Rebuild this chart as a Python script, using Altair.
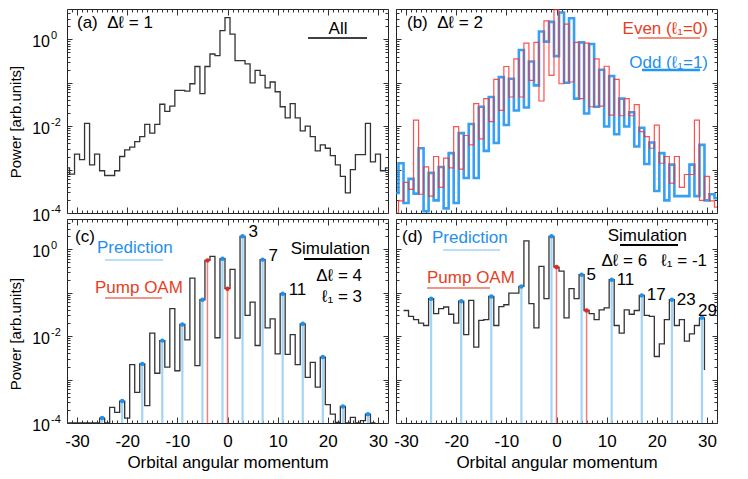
import altair as alt
import pandas as pd

FONT = "Liberation Sans"
TICK = "#333333"

# ---------------- data ----------------
L_ALL = list(range(-32, 33))          # bin centres for (a) and (b)

power_a = [1.09e-3, 7.9e-4, 2.27e-3, 1.69e-3, 1.16e-2, 1.29e-3, 2.27e-3, 9.4e-4, 7.3e-4, 7.3e-4,
           9.4e-4, 2.0e-3, 2.85e-3, 3.3e-3, 4.4e-3, 5.75e-3, 1.1e-2, 6.9e-3, 1.1e-2, 3.2e-2,
           2.2e-2, 2.9e-2, 6.7e-2, 6.7e-2, 6.4e-2, 9.5e-2, 0.237, 5.6e-2, 0.237, 0.46,
           0.42, 1.58, 3.18, 1.32, 0.325, 0.325, 0.273, 9.9e-2, 0.192, 0.148,
           7.6e-2, 0.104, 6.2e-2, 2.8e-2, 1.56e-2, 3.3e-2, 1.56e-2, 7.8e-3, 1.0e-2, 5.75e-3,
           2.7e-3, 3.7e-3, 3.1e-3, 2.1e-3, 1.29e-3, 7.0e-4, 2.9e-4, 1.0e-3, 2.2e-3, 2.2e-3,
           1.16e-2, 1.5e-3, 2.27e-3, 9.4e-4, 1.09e-3]

power_even = [8e-5, 1.9e-4, 5.1e-4, 3.5e-4, 1.38e-2, 2.7e-4, 1.15e-3, 2.45e-4, 2.0e-3, 3.9e-4,
              1.84e-3, 1.09e-3, 9.8e-3, 1.03e-3, 6.1e-3, 3.7e-3, 3.3e-2, 5.1e-3, 4.3e-2, 1.27e-2,
              0.12, 2.3e-2, 0.237, 4.7e-2, 0.355, 4.7e-2, 0.82, 0.113, 0.85, 3.8e-2,
              2.67, 0.148, 4.8, 9.5e-2, 2.24, 0.104, 0.85, 4.3e-2, 0.82, 2.8e-2,
              0.355, 2.9e-2, 0.24, 1.8e-2, 0.12, 1.74e-2, 4.3e-2, 1.74e-2, 3.15e-2, 7.5e-3,
              5.75e-3, 3.1e-3, 1.06e-2, 1.4e-3, 2.0e-3, 4.9e-4, 2.0e-3, 3.9e-4, 7.7e-4, 7.7e-4,
              1.38e-2, 1.95e-4, 7.0e-4, 1.9e-4, 1.37e-4]

power_odd = [2.9e-4, 1.4e-3, 1.7e-4, 6.1e-4, 2.8e-4, 3.1e-3, 1.1e-4, 8.4e-4, 1.95e-4, 1.15e-3,
             1.28e-4, 2.4e-3, 1.7e-4, 6.9e-3, 6.4e-4, 1.12e-2, 6.4e-4, 2.8e-2, 2.7e-3, 4.7e-2,
             4.1e-3, 0.135, 1.06e-2, 0.124, 2.3e-2, 0.57, 2.7e-2, 0.31, 8.7e-2, 1.52,
             0.885, 2.53, 0.41, 4.14, 0.1, 3.07, 4.3e-2, 0.85, 1.96e-2, 0.78,
             2.8e-2, 0.2, 9.8e-3, 0.143, 6.5e-3, 4.3e-2, 9.8e-3, 2.1e-2, 3.4e-3, 9.2e-3,
             1.34e-3, 4.2e-3, 3.2e-4, 2.4e-3, 1.95e-4, 1.3e-3, 2.45e-4, 2.45e-4, 2.45e-4, 1.3e-3,
             2.45e-4, 3.7e-3, 1.95e-4, 2.7e-4, 2.2e-4]

L_C = list(range(-32, 30))
power_c = [5e-5, 5e-5, 5e-5, 5e-5, 1.0e-4, 1.0e-4, 5e-5, 1.3e-4, 8e-5, 2.3e-4,
           1.76e-4, 3.2e-4, 1.3e-4, 2.2e-3, 5.1e-4, 2.3e-3, 2.5e-4, 1.17e-2, 1.4e-3, 7.9e-3,
           1.93e-3, 4.3e-2, 1.6e-3, 1.86e-2, 8.2e-3, 0.218, 2.1e-3, 6.9e-2, 0.557, 0.69,
           9.2e-3, 0.61, 0.124, 0.345, 9.0e-3, 2.0, 3.0e-2, 6.1e-2, 6.1e-3, 0.58,
           1.56e-2, 2.5e-2, 3.9e-3, 9.5e-2, 3.8e-3, 1.09e-2, 2.2e-3, 1.93e-2, 1.13e-3, 2.5e-3,
           6.7e-4, 3.3e-3, 2.65e-4, 1.6e-4, 1.03e-4, 2.4e-4, 8e-5, 1.35e-4, 1.0e-4, 1.13e-4,
           1.6e-4, 8e-5]
pred_c = [-25, -21, -17, -13, -9, -5, -1, 3, 7, 11, 15, 19, 23, 28]
pump_c = [-4, 0]
num_c = [3, 7, 11]

L_D = list(range(-30, 31))
power_d = [3.9e-2, 2.85e-2, 2.4e-2, 2.0e-2, 1.76e-2, 7.3e-2, 3.3e-2, 4.3e-2, 4.7e-2, 3.2e-2,
           2.0e-2, 6.4e-2, 1.09e-2, 6.65e-2, 5.6e-3, 2.3e-2, 2.4e-2, 8.2e-2, 1.76e-2, 4.8e-2,
           5.3e-2, 9.8e-2, 9.8e-2, 0.14, 1.56, 5.6e-2, 1.56e-2, 0.405, 7.3e-2, 2.0,
           0.39, 0.316, 2.65e-2, 0.124, 7.3e-2, 0.26, 3.9e-2, 3.3e-2, 2.4e-2, 4.05e-2,
           4.5e-2, 0.2, 1.76e-2, 1.17e-2, 4.05e-2, 3.2e-2, 3.9e-2, 8.7e-2, 3.0e-2, 2.85e-2,
           3.4e-3, 6.65e-3, 2.4e-2, 6.9e-2, 1.76e-2, 2.4e-2, 7.7e-3, 1.13e-2, 1.76e-2, 2.65e-2,
           1.67e-3]
pred_d = [-25, -19, -13, -7, -1, 5, 11, 17, 23, 29]
pump_d = [0, 6]
num_d = [5, 11, 17, 23, 29]

# y tick labels: decade and exponent text
ylab_values = [1.0, 0.01, 0.0001]
ylab_exp = ["0", "-2", "-4"]

# ---------------- scales / axes ----------------
W, H = 321, 204
XS = alt.Scale(domain=[-32, 32], nice=False, zero=False, clamp=True)
YS = alt.Scale(type="log", domain=[1e-4, 5.0], nice=False, clamp=True)
X_MAJOR = [-30, -20, -10, 0, 10, 20, 30]
X_MINOR = list(range(-32, 33))
Y_MAJOR = [1e-4, 1e-3, 1e-2, 1e-1, 1.0]
Y_MINOR = [m * 10.0 ** e for e in range(-4, 1) for m in range(2, 10) if m * 10.0 ** e <= 5.0]
XLAB = "datum.value < 0 ? '-' + abs(datum.value) : '' + datum.value"


def axis_layers(bottom_labels):
    dummy = pd.DataFrame({"x": [0.0], "p": [1.0]})
    out = []
    for xo, yo in (("bottom", "left"), ("top", "right")):
        for major in (True, False):
            xlab = major and xo == "bottom" and bottom_labels
            xk = dict(orient=xo, values=X_MAJOR if major else X_MINOR,
                      tickSize=6 if major else 3, offset=-6 if major else -3,
                      domain=False, grid=False, tickColor=TICK, tickWidth=1,
                      labels=xlab, labelFlush=False, minExtent=0)
            if xlab:
                xk.update(labelExpr=XLAB, labelFont=FONT, labelFontSize=17, labelColor="black",
                          labelPadding=10, title="Orbital angular momentum", titleFont=FONT,
                          titleFontSize=17, titleFontWeight="normal", titleColor="black",
                          titlePadding=5)
            else:
                xk["title"] = None
            yk = dict(orient=yo, values=Y_MAJOR if major else Y_MINOR,
                      tickSize=5 if major else 3, offset=-5 if major else -3,
                      domain=False, grid=False, tickColor=TICK, tickWidth=1,
                      labels=False, minExtent=0, title=None)
            out.append(alt.Chart(dummy).mark_point(opacity=0).encode(
                x=alt.X("x:Q", scale=XS, axis=alt.Axis(**xk)),
                y=alt.Y("p:Q", scale=YS, axis=alt.Axis(**yk))))
    return out


def y_labels(title_y):
    df = pd.DataFrame({"p": ylab_values, "e": ylab_exp})
    base = alt.Chart(df).mark_text(text="10", font=FONT, fontSize=16, color="black",
                                   align="right", baseline="middle", dy=3).encode(
        x=alt.value(-17), y=alt.Y("p:Q", scale=YS, axis=None))
    exp = alt.Chart(df).mark_text(font=FONT, fontSize=11, color="black",
                                  align="left", baseline="middle", dy=-3).encode(
        x=alt.value(-16), y=alt.Y("p:Q", scale=YS, axis=None), text="e:N")
    title = alt.Chart(pd.DataFrame({"k": [0]})).mark_text(
        text="Power [arb.units]", font=FONT, fontSize=15, color="black", angle=270,
        align="center", baseline="middle").encode(x=alt.value(-51), y=alt.value(title_y))
    return [base, exp, title]


def step_line(ls, vals, color, width, close=True, opacity=1.0):
    xs = [l - 0.5 for l in ls]
    ys = list(vals)
    if close:
        xs.append(ls[-1] + 0.5)
        ys.append(vals[-1])
    df = pd.DataFrame({"x": xs, "p": ys, "o": list(range(len(xs)))})
    return alt.Chart(df).mark_line(interpolate="step-after", clip=True, color=color,
                                   strokeWidth=width, opacity=opacity).encode(
        x=alt.X("x:Q", scale=XS, axis=None),
        y=alt.Y("p:Q", scale=YS, axis=None),
        order="o:Q")


def stems(ls, vals, where, line_color, line_w, dot_color):
    lookup = dict(zip(ls, vals))
    df = pd.DataFrame({"x": where, "p": [lookup[w] for w in where]})
    rule = alt.Chart(df).mark_rule(color=line_color, strokeWidth=line_w, clip=True).encode(
        x=alt.X("x:Q", scale=XS, axis=None),
        y=alt.Y("p:Q", scale=YS, axis=None),
        y2=alt.datum(1e-4))
    dots = alt.Chart(df).mark_circle(color=dot_color, size=20, opacity=1).encode(
        x=alt.X("x:Q", scale=XS, axis=None),
        y=alt.Y("p:Q", scale=YS, axis=None))
    return rule, dots


def numbers(ls, vals, where, dx, dy):
    lookup = dict(zip(ls, vals))
    df = pd.DataFrame({"x": where, "p": [lookup[w] for w in where], "t": [str(w) for w in where]})
    return alt.Chart(df).mark_text(font=FONT, fontSize=17, color="black", align="left",
                                   baseline="middle", dx=dx, dy=dy).encode(
        x=alt.X("x:Q", scale=XS, axis=None),
        y=alt.Y("p:Q", scale=YS, axis=None),
        text="t:N")


DUMMY = pd.DataFrame({"k": [0]})
NB = "\u00a0"


def label(text, x, y, color="black", size=17, align="left"):
    return alt.Chart(DUMMY).mark_text(text=text, font=FONT, fontSize=size, color=color,
                                      align=align, baseline="middle").encode(
        x=alt.value(x), y=alt.value(y))


def uline(x1, x2, y, color, width):
    return alt.Chart(DUMMY).mark_rule(color=color, strokeWidth=width).encode(
        x=alt.value(x1), x2=alt.value(x2), y=alt.value(y))


def panel(layers, bottom_labels, left_labels, title_y=0):
    extra = y_labels(title_y) if left_labels else []
    return alt.layer(*axis_layers(bottom_labels), *layers, *extra).resolve_axis(
        x="independent", y="independent").properties(width=W, height=H)


BLACK = "#333333"
PRED_LINE = "#a3d5f6"
PRED_DOT = "#1e90ee"
PUMP_LINE = "#f27f7f"
PUMP_DOT = "#e8281e"
RED_TXT = "#e8401e"
BLUE_TXT = "#1e90f0"

# (a)
pa = panel([
    step_line(L_ALL, power_a, BLACK, 1.3),
    label("(a)" + NB + NB + "\u0394\u2113 = 1", 10, 14),
    label("All", 271, 20, align="center"),
    uline(241, 300, 29, "black", 1.5),
], False, True, 113)

# (b)
pb = panel([
    step_line(L_ALL, power_odd, "#2196f3", 2.6, opacity=0.9),
    step_line(L_ALL, power_even, "#ff3030", 1.2, opacity=0.85),
    label("(b)" + NB + NB + "\u0394\u2113 = 2", 11, 14),
    label("Even (\u2113\u2081=0)", 312, 20, color=RED_TXT, align="right"),
    uline(242, 304, 29, "#f06a50", 1.5),
    label("Odd (\u2113\u2081=1)", 312, 54, color=BLUE_TXT, align="right"),
    uline(246, 304, 61, "#2196f3", 2.5),
], False, False)

# (c)
rc1, dc1 = stems(L_C, power_c, pred_c, PRED_LINE, 2.2, PRED_DOT)
rc2, dc2 = stems(L_C, power_c, pump_c, PUMP_LINE, 1.5, PUMP_DOT)
pc = panel([
    rc1, rc2,
    step_line(L_C, power_c, BLACK, 1.3),
    dc1, dc2,
    numbers(L_C, power_c, num_c, 6, -4),
    label("(c)", 8, 18),
    label("Prediction", 30, 29, color=BLUE_TXT),
    uline(38, 96, 41, PRED_LINE, 1.5),
    label("Pump OAM", 28, 69, color=RED_TXT),
    uline(38, 95, 79, "#ef7060", 1.5),
    label("Simulation", 303, 30, align="right"),
    uline(237, 295, 40, "black", 2),
    label("\u0394\u2113 = 4", 295, 57, align="right"),
    label("\u2113\u2081 = 3", 295, 78, align="right"),
], True, True, 115)

# (d)
rd1, dd1 = stems(L_D, power_d, pred_d, PRED_LINE, 2.2, PRED_DOT)
rd2, dd2 = stems(L_D, power_d, pump_d, PUMP_LINE, 1.5, PUMP_DOT)
pd_ = panel([
    rd1, rd2,
    step_line(L_D, power_d, BLACK, 1.3, close=False),
    dd1, dd2,
    numbers(L_D, power_d, num_d[:4], 5, 0),
    numbers(L_D, power_d, num_d[4:], -4, -7),
    label("(d)", 6, 18),
    label("Prediction", 36, 19, color=BLUE_TXT),
    uline(47, 104, 31, PRED_LINE, 1.5),
    label("Pump OAM", 31, 59, color=RED_TXT),
    uline(31, 94, 69, "#ef7060", 1.5),
    label("Simulation", 291, 17, align="right"),
    uline(224, 282, 26, "black", 2),
    label("\u0394\u2113 = 6" + NB * 3 + "\u2113\u2081 = -1", 311, 42, align="right"),
], True, False)

chart = alt.concat(
    pa, pb, pc, pd_,
    columns=2,
    spacing={"row": 6, "column": 8},
    bounds="flush",
).properties(
    padding={"left": 0, "top": 0, "right": 0, "bottom": 0},
    background="white",
).configure_view(stroke="#222222", strokeWidth=1)

chart.save("out.html", embed_options={"renderer": "svg", "actions": False})
